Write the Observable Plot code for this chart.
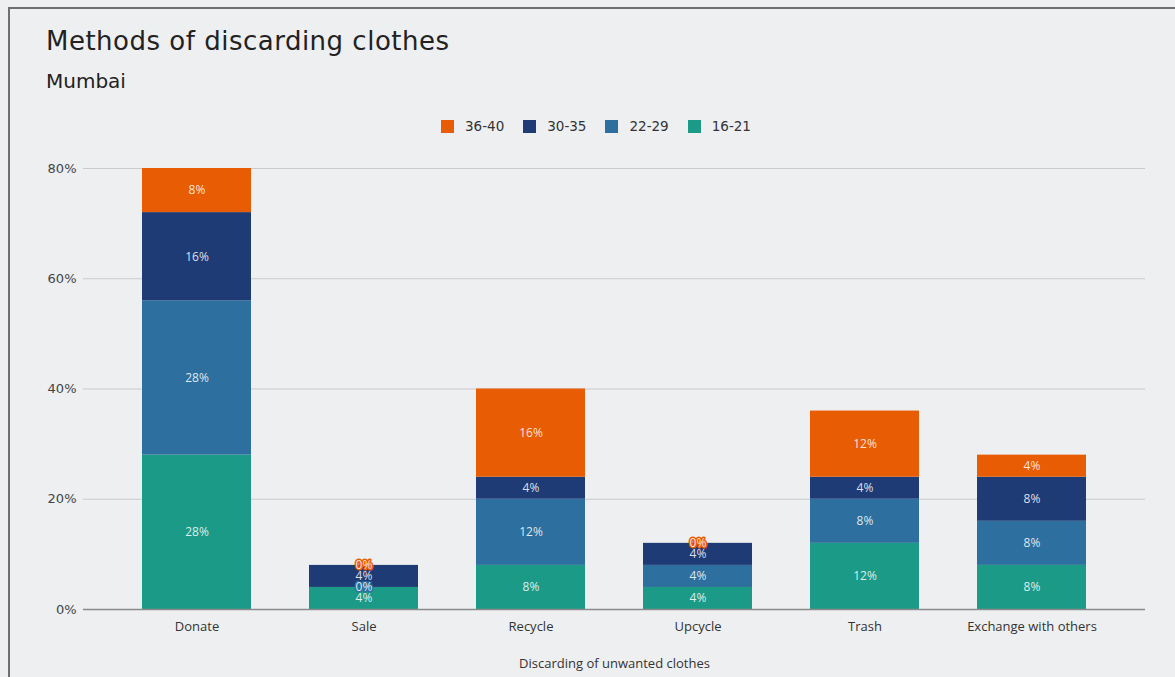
<!DOCTYPE html>
<html>
<head>
<meta charset="utf-8">
<script src="https://cdn.jsdelivr.net/npm/d3@7"></script>
<script src="https://cdn.jsdelivr.net/npm/@observablehq/plot@0.6"></script>
<style>
  html, body { margin: 0; padding: 0; background: #eeeff1; width: 1175px; height: 677px; overflow: hidden; font-family: "DejaVu Sans", sans-serif; }
  #frame { position: absolute; left: 8px; top: 7px; right: -4px; bottom: -4px; border-left: 2px solid #6f6f6f; border-top: 2px solid #6f6f6f; }
  #title { position: absolute; left: 46px; top: 26px; font-size: 26px; letter-spacing: 0.5px; color: #222; white-space: nowrap; }
  #subtitle { position: absolute; left: 46px; top: 69px; font-size: 20px; color: #222; white-space: nowrap; }
  #legend { position: absolute; left: 441px; top: 119px; display: flex; align-items: center; font-size: 13.5px; color: #333; }
  .item { display: flex; align-items: center; margin-right: 19px; height: 14px; }
  .item:last-child { margin-right: 0; }
  .sw { width: 13px; height: 13px; margin-right: 11px; }
  #chart { position: absolute; left: 0; top: 145px; }
</style>
</head>
<body>
<div id="frame"></div>
<div id="title">Methods of discarding clothes</div>
<div id="subtitle">Mumbai</div>
<div id="legend"></div>
<div id="chart"></div>
<script>
const methods = ["Donate", "Sale", "Recycle", "Upcycle", "Trash", "Exchange with others"];
const ageGroups = ["16-21", "22-29", "30-35", "36-40"];
const legendOrder = ["36-40", "30-35", "22-29", "16-21"];
const colors = ["#1b9a87", "#2d6f9e", "#1f3b76", "#e85c04"];
const v16_21 = [28, 4, 8, 4, 12, 8];
const v22_29 = [28, 0, 12, 4, 8, 8];
const v30_35 = [16, 4, 4, 4, 4, 8];
const v36_40 = [8, 0, 16, 0, 12, 4];
const yTicks = [0, 20, 40, 60, 80];

const series = [v16_21, v22_29, v30_35, v36_40];
const data = [];
ageGroups.forEach((g, i) => methods.forEach((m, j) => data.push({method: m, age: g, value: series[i][j]})));

const chart = Plot.plot({
  width: 1175,
  height: 532,
  marginLeft: 83,
  marginRight: 30,
  marginTop: 23,
  marginBottom: 68,
  style: {background: "transparent", fontFamily: "DejaVu Sans, sans-serif"},
  x: {domain: methods, padding: 0.35},
  y: {domain: [0, 80]},
  color: {domain: ageGroups, range: colors},
  marks: [
    Plot.gridY(yTicks, {stroke: "#c9cacc", strokeOpacity: 1}),
    Plot.axisY(yTicks, {tickSize: 0, tickPadding: 7, tickFormat: d => d + "%", label: null, fontSize: 13, fill: "#444"}),
    Plot.barY(data, {x: "method", y: "value", fill: "age", z: "age"}),
    Plot.ruleY([0], {stroke: "#8a8a8a", strokeWidth: 1.5}),
    Plot.text(data, Plot.stackY({x: "method", y: "value", z: "age", text: d => d.value + "%", fill: "white", fillOpacity: 0.85, stroke: "age", strokeWidth: 3, fontSize: 12, fontFamily: "Open Sans, sans-serif"})),
    Plot.axisX({tickSize: 0, tickPadding: 12, fontSize: 13, fontFamily: "Open Sans, sans-serif", fill: "#333", label: "Discarding of unwanted clothes", labelAnchor: "center", labelOffset: 58, labelArrow: "none"})
  ]
});
document.getElementById("chart").appendChild(chart);

const legendEl = document.getElementById("legend");
legendOrder.forEach(g => {
  const item = document.createElement("div");
  item.className = "item";
  const sw = document.createElement("div");
  sw.className = "sw";
  sw.style.background = colors[ageGroups.indexOf(g)];
  const label = document.createElement("span");
  label.textContent = g;
  item.appendChild(sw);
  item.appendChild(label);
  legendEl.appendChild(item);
});
</script>
</body>
</html>
